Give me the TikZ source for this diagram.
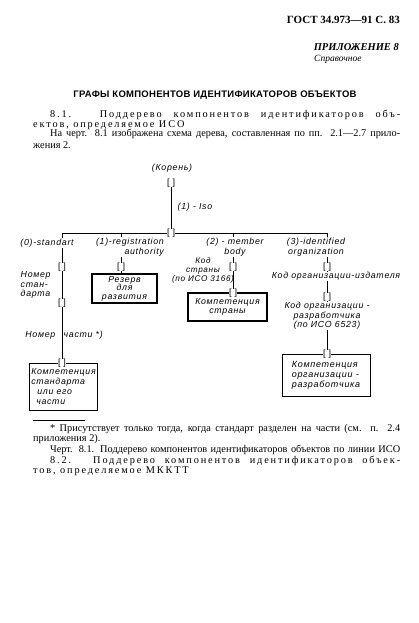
\documentclass[tikz,border=0pt]{standalone}
\usepackage{fontspec}
\setmainfont{Liberation Serif}
\newfontfamily\treefont[LetterSpace=8]{Liberation Sans}
\newfontfamily\brkfont{Liberation Sans}
\newfontfamily\spacedfont[LetterSpace=18]{Liberation Serif}
\newfontfamily\titlefont[LetterSpace=3]{Liberation Sans}
\begin{document}
\begin{tikzpicture}[x=1pt,y=-1pt,
  txt/.style={inner sep=0pt, font=\fontsize{10.3}{12}\selectfont},
  tl/.style={inner sep=0.5pt, font=\treefont\itshape\fontsize{8.8}{9.5}\selectfont, align=center},
  brk/.style={inner sep=0pt, font=\brkfont\fontsize{9}{9}\selectfont, fill=white},
  thickbox/.style={draw, line width=1.5pt, inner sep=2pt},
  thinbox/.style={draw, line width=0.7pt, inner sep=2pt},
  conn/.style={line width=0.6pt}]
\useasboundingbox[fill=white] (0,0) rectangle (418,623);

% header
\node[txt, anchor=east, font=\bfseries\fontsize{11}{12}\selectfont] (hdr) at (400,20) {ГОСТ 34.973—91 С. 83};
\node[txt, anchor=east, font=\bfseries\itshape\fontsize{10.5}{12}\selectfont] (pril) at (399,47) {ПРИЛОЖЕНИЕ 8};
\node[txt, anchor=west, font=\itshape\fontsize{9.5}{11}\selectfont] (sprav) at (314,59) {Справочное};
\node[txt, font=\titlefont\bfseries\fontsize{9.5}{11}\selectfont] (title) at (215,95) {ГРАФЫ КОМПОНЕНТОВ ИДЕНТИФИКАТОРОВ ОБЪЕКТОВ};

% paragraph
\node[txt, anchor=west] (p1) at (50,115) {\spacedfont\makebox[350pt][s]{8.1. Поддерево компонентов идентификаторов объ-}};
\node[txt, anchor=west] (p2) at (33,125) {\spacedfont ектов, определяемое ИСО};
\node[txt, anchor=west] (p3) at (50,134) {\makebox[350pt][s]{На черт. 8.1 изображена схема дерева, составленная по пп. 2.1—2.7 прило-}};
\node[txt, anchor=west] (p4) at (33,145) {жения 2.};

% tree
\node[tl] (root) at (172,168) {(Корень)};
\node[brk] (broot) at (171,183) {[\hspace{3pt}]};
\node[brk] (bm) at (171,233) {[\hspace{3pt}]};
\node[tl, anchor=west] (iso) at (177,207) {(1) - Iso};
\coordinate (c0) at (62,233);
\coordinate (c1) at (121,233);
\coordinate (c2) at (233,233);
\coordinate (c3) at (327,233);

\node[tl] (L0) at (47,243) {(0)-standart};
\node[tl, align=right] (L1) at (130,247) {(1)-registration\\ authority};
\node[tl] (L2) at (235,247) {(2) - member\\ body};
\node[tl] (L3) at (316,247) {(3)-identified\\ organization};

% column 0
\node[brk] (b01) at (62,267) {[\hspace{3pt}]};
\node[brk] (b02) at (62,303) {[\hspace{3pt}]};
\node[tl, align=left, anchor=west] (n0) at (20,285) {Номер\\стан-\\дарта};
\node[tl, anchor=east] (n1) at (56,335) {Номер};
\node[tl, anchor=west] (n2) at (63,335) {части *)};
\node[thinbox, minimum width=67pt, minimum height=47pt, align=left, font=\treefont\itshape\fontsize{8.8}{10}\selectfont] (B0) at (63.5,387) {Компетенция\\стандарта\\\hspace*{6pt}или его\\\hspace*{5pt}части};
\node[brk] (b03) at (62,363.5) {[\hspace{3pt}]};

% column 1
\node[brk] (b11) at (121,267) {[\hspace{3pt}]};
\node[thickbox, minimum width=65pt, minimum height=27pt, align=center, font=\treefont\itshape\fontsize{8.8}{8.5}\selectfont] (B1) at (124.5,288.5) {Резерв\\для\\развития};

% column 2
\node[brk] (b21) at (233,267) {[\hspace{3pt}]};
\node[tl, font=\treefont\itshape\fontsize{8.2}{9}\selectfont] (k2) at (203,270) {Код\\страны\\(по ИСО 3166)};
\node[thickbox, minimum width=79pt, minimum height=28pt, align=center, font=\treefont\itshape\fontsize{8.8}{9.5}\selectfont] (B2) at (227.5,307) {Компетенция\\страны};
\node[brk] (b22) at (233,293) {[\hspace{3pt}]};

% column 3
\node[brk] (b31) at (327,267) {[\hspace{3pt}]};
\node[tl] (k31) at (336,276) {Код организации-издателя};
\node[brk] (b32) at (327,297) {[\hspace{3pt}]};
\node[tl] (k32) at (327,316) {Код организации -\\разработчика\\(по ИСО 6523)};
\node[thinbox, minimum width=88pt, minimum height=42pt, align=left, font=\treefont\itshape\fontsize{9}{10}\selectfont] (B3) at (326,375) {Компетенция\\организации -\\разработчика};
\node[brk] (b33) at (327,354) {[\hspace{3pt}]};

% connectors
\draw[conn] (broot.south) -- (bm.north);
\draw[conn] (c0) -- (bm.west) (bm.east) -- (c3);
\draw[conn] (c0) -- (L0.north -| c0);
\draw[conn] (c1) -- (L1.north -| c1);
\draw[conn] (c2) -- (L2.north -| c2);
\draw[conn] (c3) -- (L3.north -| c3);
\draw[conn] (L0.south -| b01) -- (b01.north);
\draw[conn] (b01.south) -- (b02.north);
\draw[conn] (b02.south) -- (b03.north);
\draw[conn] (L1.south -| b11) -- (b11.north);
\draw[conn] (b11.south) -- (B1.north -| b11);
\draw[conn] (L2.south -| b21) -- (b21.north);
\draw[conn] (b21.south) -- (b22.north);
\draw[conn] (L3.south -| b31) -- (b31.north);
\draw[conn] (b31.south) -- (k31.north -| b31);
\draw[conn] (k31.south -| b32) -- (b32.north);
\draw[conn] (b32.south) -- (k32.north -| b32);
\draw[conn] (k32.south -| b33) -- (b33.north);

% footnote
\draw[line width=0.6pt] (33,420) -- (85,420);
\node[txt, anchor=west] (f1) at (50,429) {\makebox[350pt][s]{* Присутствует только тогда, когда стандарт разделен на части (см. п. 2.4}};
\node[txt, anchor=west] (f2) at (33,439) {приложения 2).};
\node[txt, anchor=west] (f3) at (50,450) {\makebox[350pt][s]{Черт. 8.1. Поддерево компонентов идентификаторов объектов по линии ИСО}};
\node[txt, anchor=west] (f4) at (50,461) {\spacedfont\makebox[350pt][s]{8.2. Поддерево компонентов идентификаторов объек-}};
\node[txt, anchor=west] (f5) at (33,471) {\spacedfont тов, определяемое МККТТ};
\end{tikzpicture}
\end{document}
